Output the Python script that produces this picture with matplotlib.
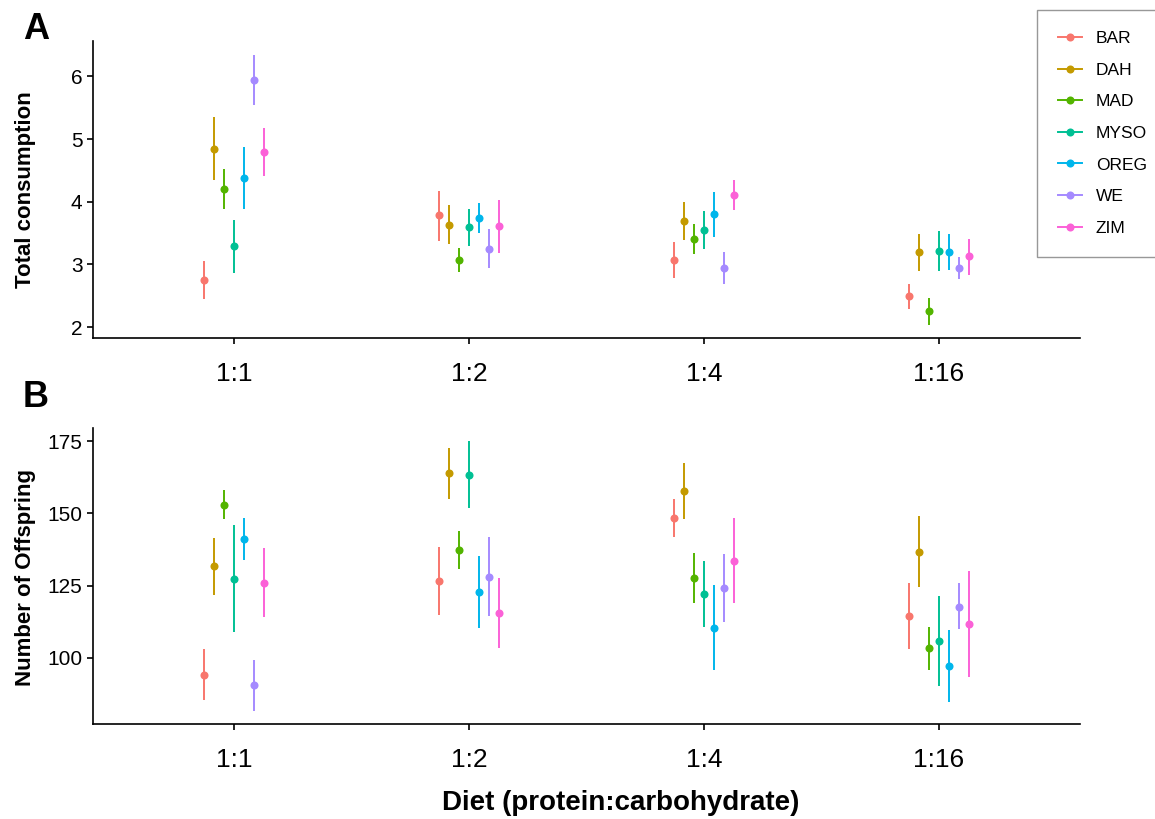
import matplotlib
matplotlib.use("Agg")
import matplotlib.pyplot as plt
from matplotlib.lines import Line2D
import numpy as np

plt.rcParams['font.family'] = ['Liberation Sans', 'DejaVu Sans']

diets = ["1:1", "1:2", "1:4", "1:16"]
strains = ["BAR", "DAH", "MAD", "MYSO", "OREG", "WE", "ZIM"]
colors = ["#F8766D", "#C49A00", "#53B400", "#00C094", "#00B6EB", "#A58AFF", "#FB61D7"]

# Panel A: total consumption (mean, lower, upper) per strain, per diet
cons_mean = {
    "BAR":  [2.75, 3.78, 3.07, 2.49],
    "DAH":  [4.84, 3.63, 3.69, 3.20],
    "MAD":  [4.21, 3.07, 3.40, 2.25],
    "MYSO": [3.29, 3.59, 3.55, 3.22],
    "OREG": [4.38, 3.74, 3.80, 3.20],
    "WE":   [5.94, 3.25, 2.94, 2.94],
    "ZIM":  [4.79, 3.61, 4.11, 3.13],
}
cons_low = {
    "BAR":  [2.45, 3.38, 2.78, 2.29],
    "DAH":  [4.34, 3.32, 3.39, 2.90],
    "MAD":  [3.89, 2.88, 3.16, 2.04],
    "MYSO": [2.86, 3.29, 3.24, 2.90],
    "OREG": [3.89, 3.50, 3.44, 2.91],
    "WE":   [5.54, 2.94, 2.69, 2.77],
    "ZIM":  [4.41, 3.18, 3.86, 2.83],
}
cons_high = {
    "BAR":  [3.05, 4.17, 3.35, 2.68],
    "DAH":  [5.36, 3.94, 3.99, 3.49],
    "MAD":  [4.53, 3.26, 3.64, 2.46],
    "MYSO": [3.71, 3.89, 3.85, 3.53],
    "OREG": [4.88, 3.98, 4.16, 3.49],
    "WE":   [6.35, 3.57, 3.20, 3.12],
    "ZIM":  [5.17, 4.03, 4.35, 3.41],
}

# Panel B: number of offspring
off_mean = {
    "BAR":  [94.1, 126.6, 148.3, 114.5],
    "DAH":  [131.6, 164.0, 157.8, 136.8],
    "MAD":  [153.0, 137.2, 127.7, 103.2],
    "MYSO": [127.3, 163.3, 122.1, 105.7],
    "OREG": [141.2, 122.9, 110.4, 97.1],
    "WE":   [90.4, 128.1, 124.0, 117.7],
    "ZIM":  [126.0, 115.5, 133.6, 111.7],
}
off_low = {
    "BAR":  [85.1, 114.8, 141.8, 102.9],
    "DAH":  [121.6, 155.0, 148.0, 124.6],
    "MAD":  [148.0, 130.6, 119.1, 95.8],
    "MYSO": [108.8, 151.8, 110.6, 90.1],
    "OREG": [133.9, 110.4, 95.7, 84.6],
    "WE":   [81.6, 114.3, 112.4, 109.8],
    "ZIM":  [113.9, 103.2, 119.0, 93.4],
}
off_high = {
    "BAR":  [103.1, 138.5, 154.9, 126.0],
    "DAH":  [141.5, 172.9, 167.6, 149.1],
    "MAD":  [158.3, 143.8, 136.3, 110.6],
    "MYSO": [146.0, 175.0, 133.4, 121.3],
    "OREG": [148.5, 135.4, 125.2, 109.6],
    "WE":   [99.3, 141.8, 135.8, 125.7],
    "ZIM":  [138.0, 127.6, 148.4, 130.1],
}

W, H = 1155, 819
fig = plt.figure(figsize=(W / 100, H / 100), dpi=100)

def fx(px):
    return px / W

def fy(py):
    return 1 - py / H

axA = fig.add_axes([fx(93), fy(338), fx(1080) - fx(93), fy(41) - fy(338)])
axB = fig.add_axes([fx(93), fy(724), fx(1080) - fx(93), fy(428) - fy(724)])

n = len(strains)
dodge = 0.3
x = np.arange(len(diets))

def draw(ax, mean, low, high, yticks):
    allv = []
    for i, s in enumerate(strains):
        off = (i - (n - 1) / 2) * dodge / n
        m = np.array(mean[s]); lo = np.array(low[s]); hi = np.array(high[s])
        allv += list(lo) + list(hi)
        ax.errorbar(x + off, m, yerr=[m - lo, hi - m], fmt='o', color=colors[i],
                    markersize=5.8, elinewidth=1.4, capsize=1.6, capthick=1.2,
                    markeredgewidth=0)
    vmin, vmax = min(allv), max(allv)
    r = vmax - vmin
    ax.set_ylim(vmin - 0.05 * r, vmax + 0.05 * r)
    ax.set_xlim(-0.6, len(diets) - 1 + 0.6)
    ax.set_xticks(x)
    ax.set_xticklabels(diets)
    ax.set_yticks(yticks)
    for sp in ['top', 'right']:
        ax.spines[sp].set_visible(False)
    for sp in ['left', 'bottom']:
        ax.spines[sp].set_linewidth(1.2)
        ax.spines[sp].set_color('black')
    ax.tick_params(axis='x', length=4, width=1.2, pad=13.5, labelsize=19, colors='black')
    ax.tick_params(axis='y', length=4, width=1.2, pad=3.5, labelsize=15, colors='black')

draw(axA, cons_mean, cons_low, cons_high, [2, 3, 4, 5, 6])
draw(axB, off_mean, off_low, off_high, [100, 125, 150, 175])

fig.text(fx(26), fy(190), "Total consumption", rotation=90, ha='center', va='center',
         fontsize=16, fontweight='bold')
fig.text(fx(26), fy(577), "Number of Offspring", rotation=90, ha='center', va='center',
         fontsize=16, fontweight='bold')
fig.text(fx(621), fy(810), "Diet (protein:carbohydrate)", ha='center', va='baseline',
         fontsize=20, fontweight='bold')
fig.text(fx(23), fy(39), "A", ha='left', va='baseline', fontsize=26, fontweight='bold')
fig.text(fx(23), fy(407), "B", ha='left', va='baseline', fontsize=26, fontweight='bold')

handles = [Line2D([0], [0], color=c, marker='o', markersize=5.8, lw=1.4,
                  markeredgewidth=0) for c in colors]
leg = fig.legend(handles, strains, loc='upper left',
                 bbox_to_anchor=(fx(1037), fy(10)), bbox_transform=fig.transFigure,
                 borderaxespad=0, frameon=True, fancybox=False, fontsize=12.5,
                 handlelength=1.4, handletextpad=0.78, labelspacing=0.95,
                 borderpad=1.2)
leg.get_frame().set_edgecolor('#7f7f7f')
leg.get_frame().set_linewidth(1.0)

fig.savefig("out.png", dpi=100)
